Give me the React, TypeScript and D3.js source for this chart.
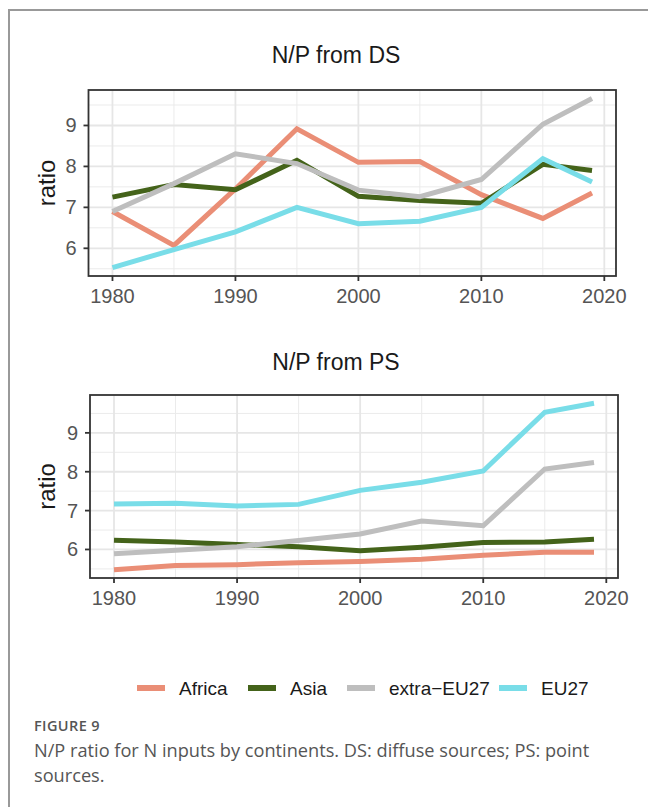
import React from "react";
import * as d3 from "d3";

// values
const years = [1980, 1985, 1990, 1995, 2000, 2005, 2010, 2015, 2019];
const seriesNames = ["Africa", "Asia", "extra\u2212EU27", "EU27"];
const seriesColors = ["#EA8E76", "#44631A", "#BEBEBE", "#79DDE8"];

const dsAfrica = [6.9, 6.07, 7.45, 8.92, 8.1, 8.12, 7.31, 6.73, 7.35];
const dsAsia = [7.25, 7.56, 7.43, 8.15, 7.27, 7.17, 7.1, 8.05, 7.9];
const dsExtra = [6.9, 7.58, 8.31, 8.07, 7.42, 7.26, 7.68, 9.03, 9.66];
const dsEU27 = [5.53, 5.97, 6.4, 7.0, 6.6, 6.66, 7.0, 8.19, 7.62];

const psAfrica = [5.48, 5.59, 5.61, 5.66, 5.69, 5.75, 5.85, 5.93, 5.93];
const psAsia = [6.24, 6.19, 6.13, 6.07, 5.97, 6.06, 6.18, 6.19, 6.26];
const psExtra = [5.89, 5.98, 6.07, 6.23, 6.4, 6.73, 6.61, 8.07, 8.24];
const psEU27 = [7.17, 7.19, 7.12, 7.16, 7.52, 7.73, 8.02, 9.53, 9.76];

const xTicks = [1980, 1990, 2000, 2010, 2020];
const xMinor = [1985, 1995, 2005, 2015];
const yTicks = [6, 7, 8, 9];
const yMinor = [5.5, 6.5, 7.5, 8.5, 9.5];

const W = 648;
const H = 807;
const FONT = "'Liberation Sans', Arial, sans-serif";
const CAPTION_FONT = "'Open Sans', sans-serif";

// ggplot style 5% expansion
const expand = (ext: [number, number]) => {
  const pad = (ext[1] - ext[0]) * 0.05;
  return [ext[0] - pad, ext[1] + pad];
};

function Panel({ title, data, left, right, top, bottom, titleY }) {
  const x = d3.scaleLinear().domain(expand(d3.extent(years) as [number, number])).range([left, right]);
  const allVals = data.flat();
  const y = d3.scaleLinear().domain(expand(d3.extent(allVals) as [number, number])).range([bottom, top]);
  const [ylo, yhi] = y.domain();
  const line = d3
    .line<number>()
    .x((d, i) => x(years[i]))
    .y((d) => y(d));
  const clipId = "clip-" + title.replace(/\W/g, "");

  return (
    <g>
      <text x={336} y={titleY} textAnchor="middle" fontFamily={FONT} fontSize={23} fill="#1a1a1a">
        {title}
      </text>
      <clipPath id={clipId}>
        <rect x={left} y={top} width={right - left} height={bottom - top} />
      </clipPath>
      <g clipPath={`url(#${clipId})`}>
        {yMinor.filter((v) => v > ylo && v < yhi).map((v) => (
          <line key={"ym" + v} x1={left} x2={right} y1={y(v)} y2={y(v)} stroke="#EBEBEB" strokeWidth={1} />
        ))}
        {xMinor.map((v) => (
          <line key={"xm" + v} x1={x(v)} x2={x(v)} y1={top} y2={bottom} stroke="#EBEBEB" strokeWidth={1} />
        ))}
        {yTicks.map((v) => (
          <line key={"yg" + v} x1={left} x2={right} y1={y(v)} y2={y(v)} stroke="#E6E6E6" strokeWidth={1.8} />
        ))}
        {xTicks.map((v) => (
          <line key={"xg" + v} x1={x(v)} x2={x(v)} y1={top} y2={bottom} stroke="#E6E6E6" strokeWidth={1.8} />
        ))}
        {data.map((vals, i) => (
          <path key={i} d={line(vals) || ""} fill="none" stroke={seriesColors[i]} strokeWidth={5} />
        ))}
      </g>
      <rect x={left} y={top} width={right - left} height={bottom - top} fill="none" stroke="#333" strokeWidth={1.8} />
      {xTicks.map((v) => (
        <g key={"xt" + v}>
          <line x1={x(v)} x2={x(v)} y1={bottom} y2={bottom + 5} stroke="#333" strokeWidth={1.8} />
          <text x={x(v)} y={bottom + 27} textAnchor="middle" fontFamily={FONT} fontSize={20} fill="#555">
            {v}
          </text>
        </g>
      ))}
      {yTicks.map((v) => (
        <g key={"yt" + v}>
          <line x1={left - 5} x2={left} y1={y(v)} y2={y(v)} stroke="#333" strokeWidth={1.8} />
          <text x={left - 12} y={y(v) + 7} textAnchor="end" fontFamily={FONT} fontSize={20} fill="#555">
            {v}
          </text>
        </g>
      ))}
      <text
        transform={`translate(55,${(top + bottom) / 2}) rotate(-90)`}
        textAnchor="middle"
        fontFamily={FONT}
        fontSize={24}
        fill="#1a1a1a"
      >
        ratio
      </text>
    </g>
  );
}

const legendKeyX = [137, 248, 347, 499];

export default function App() {
  return (
    <svg width={W} height={H} style={{ position: "absolute", left: 0, top: 0, background: "#fff" }}>
      <rect x={0} y={0} width={W} height={H} fill="#fff" />
      <path d={`M9,${H} L9,10 L${W},10`} fill="none" stroke="#999" strokeWidth={2} />
      <Panel
        title="N/P from DS"
        data={[dsAfrica, dsAsia, dsExtra, dsEU27]}
        left={88.5}
        right={616}
        top={90}
        bottom={276}
        titleY={63}
      />
      <Panel
        title="N/P from PS"
        data={[psAfrica, psAsia, psExtra, psEU27]}
        left={90}
        right={618}
        top={395}
        bottom={578}
        titleY={370}
      />
      {seriesNames.map((name, i) => (
        <g key={name}>
          <line
            x1={legendKeyX[i]}
            x2={legendKeyX[i] + 28}
            y1={688}
            y2={688}
            stroke={seriesColors[i]}
            strokeWidth={6}
          />
          <text x={legendKeyX[i] + 42} y={695} fontFamily={FONT} fontSize={19} fill="#1a1a1a">
            {name}
          </text>
        </g>
      ))}
      <text x={34} y={731} fontFamily={CAPTION_FONT} fontSize={14.5} fontWeight={600} letterSpacing={0.4} fill="#555">
        FIGURE 9
      </text>
      <text x={34} y={757} fontFamily={CAPTION_FONT} fontSize={18.2} fill="#555">
        N/P ratio for N inputs by continents. DS: diffuse sources; PS: point
      </text>
      <text x={34} y={782} fontFamily={CAPTION_FONT} fontSize={18.2} fill="#555">
        sources.
      </text>
    </svg>
  );
}
